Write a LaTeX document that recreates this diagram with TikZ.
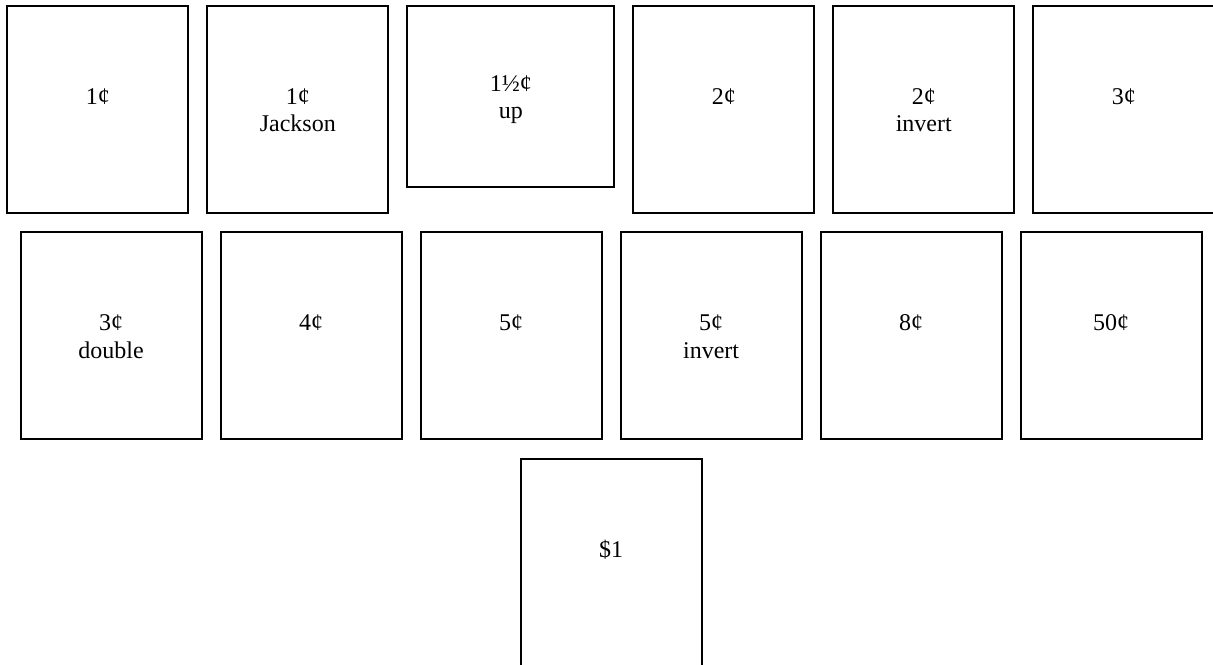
\documentclass[tikz,border=0pt]{standalone}
\usepackage{fontspec}
\setmainfont{Liberation Serif}
\usetikzlibrary{positioning,calc}

\begin{document}
\begin{tikzpicture}[
        stamp/.style={
            draw,
            line width=0.9pt,
            align=center,
            inner sep=0pt,
            outer sep=0pt,
            minimum width=90.5pt,
            minimum height=103.5pt,
            text height=49.25pt,
            text depth=54.25pt,
            font=\fontsize{12}{13.6}\selectfont
        },
        pair/.style={
            text height=62.85pt,
            text depth=40.65pt
        },
        wide/.style={
            stamp,
            minimum width=103.5pt,
            minimum height=90.5pt,
            text height=56.35pt,
            text depth=34.15pt
        },
        node distance=9.5pt
    ]

        \useasboundingbox (0,0) rectangle (606.5pt,-332pt);

        \node[stamp, anchor=north west] (one) at (3.65pt,-2.8pt) {1¢};
        \node[stamp, pair, right=of one] (oneJ) {1¢\\Jackson};
        \node[wide, right=of oneJ.north east, anchor=north west]
            (onehalf) {1½¢\\up};
        \node[stamp, right=of onehalf.north east, anchor=north west]
            (two) {2¢};
        \node[stamp, pair, right=of two] (twoinv) {2¢\\invert};
        \node[stamp, right=of twoinv] (three) {3¢};

        \node[stamp, pair, below=9.85pt of one.south west, anchor=north west,
            xshift=6.65pt] (threedbl) {3¢\\double};
        \node[stamp, right=of threedbl] (four) {4¢};
        \node[stamp, right=of four] (five) {5¢};
        \node[stamp, pair, right=of five] (fiveinv) {5¢\\invert};
        \node[stamp, right=of fiveinv] (eight) {8¢};
        \node[stamp, right=of eight] (fifty) {50¢};

        % Centred under the two middle stamps of the second row.
        \coordinate (mid) at ($(five.south)!0.5!(fiveinv.south)$);
        \node[stamp, below=9.8pt of mid] (dollar) {\$1};

    \end{tikzpicture}
\end{document}
